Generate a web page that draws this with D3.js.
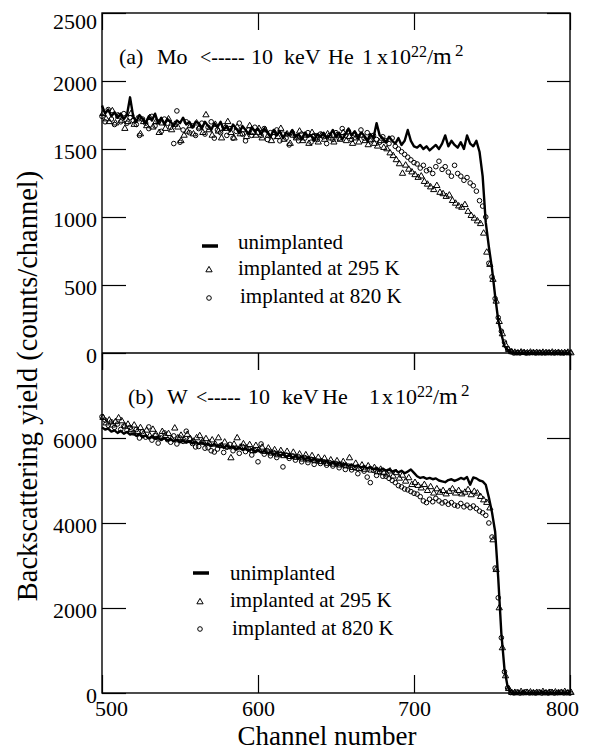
<!DOCTYPE html>
<html lang="en">
<head>
<meta charset="UTF-8">
<title>Backscattering yield, Mo and W</title>
<script src="https://d3js.org/d3.v7.min.js"></script>
<style>
  body { margin: 0; background: #fff; }
  svg text { font-family: "Liberation Serif", "Times New Roman", serif; fill: #000; }
  .axis path.domain { display: none; }
  .axis line { stroke: #000; stroke-width: 1.2; }
  .axis text { font-size: 22px; font-family: "Liberation Serif", serif; }
</style>
</head>
<body>
<svg id="chart" width="595" height="751"></svg>
<script>
// channel numbers, every second channel
const channels = d3.range(500, 801, 2);

// (a) Mo, counts per channel
const moUnimplanted = [
  1820, 1760, 1790, 1740, 1770, 1730, 1760, 1720, 1750, 1880, 1740,
  1700, 1750, 1720, 1690, 1740, 1710, 1760, 1690, 1730, 1680, 1720, 1700, 1670, 1710, 1690, 1730, 1680, 1700, 1660, 1700,
  1690, 1650, 1700, 1670, 1640, 1690, 1660, 1700, 1640, 1670, 1630, 1680, 1650, 1620, 1670, 1640, 1610, 1660, 1630, 1650,
  1610, 1650, 1620, 1590, 1640, 1600, 1630, 1580, 1620, 1600, 1640, 1590, 1610, 1570, 1620, 1590, 1600, 1560, 1610, 1590,
  1620, 1580, 1600, 1640, 1590, 1620, 1570, 1610, 1650, 1600, 1630, 1580, 1620, 1600, 1560, 1610, 1580, 1690, 1600, 1580,
  1550, 1590, 1560, 1540, 1580, 1530, 1560, 1640, 1560, 1520,
  1510, 1530, 1500, 1520, 1490, 1510, 1530, 1500, 1540, 1600, 1520, 1560, 1530, 1510, 1550, 1500, 1600, 1540, 1520, 1560,
  1480, 1300, 960, 780, 620, 420, 240, 140, 50, 25, 5,
  0, 2, 0, 3, 1, 0, 2, 0, 1, 3, 0, 2, 1, 0, 2, 0, 1, 0, 2
];
const moImplanted295 = [
  1760, 1720, 1700, 1780, 1690, 1740, 1710, 1650, 1700, 1760, 1680,
  1720, 1610, 1700, 1670, 1730, 1660, 1700, 1620, 1690, 1650, 1720, 1640, 1680, 1660, 1560, 1600, 1630, 1670, 1610, 1690,
  1660, 1620, 1750, 1640, 1600, 1680, 1630, 1580, 1650, 1700, 1620, 1580, 1660, 1610, 1640, 1590, 1670, 1620, 1600, 1650,
  1580, 1640, 1600, 1560, 1620, 1590, 1650, 1570, 1610, 1540, 1600, 1580, 1630, 1560, 1600, 1540, 1620, 1580, 1550, 1600,
  1570, 1610, 1580, 1550, 1600, 1570, 1620, 1560, 1590, 1540, 1580, 1550, 1600, 1560, 1530, 1570, 1540, 1520, 1560, 1510,
  1500, 1470, 1450, 1420, 1390, 1320, 1380, 1350, 1330, 1310,
  1290, 1300, 1260, 1240, 1220, 1200, 1230, 1180, 1170, 1150, 1160, 1120, 1100, 1080, 1070, 1090, 1040, 1010, 990, 970,
  950, 880, 740, 650, 540, 380, 230, 140, 60, 25, 8,
  4, 0, 6, 2, 0, 5, 1, 3, 0, 4, 2, 0, 5, 1, 3, 0, 2, 4, 0
];
const moImplanted820 = [
  1740, 1700, 1790, 1720, 1680, 1750, 1700, 1760, 1690, 1730, 1710,
  1680, 1600, 1720, 1690, 1650, 1740, 1670, 1700, 1630, 1720, 1690, 1660, 1540, 1780, 1550, 1640, 1700, 1620, 1670, 1600,
  1650, 1690, 1610, 1660, 1700, 1580, 1640, 1620, 1670, 1600, 1650, 1580, 1630, 1690, 1610, 1560, 1640, 1600, 1660, 1620,
  1600, 1650, 1570, 1620, 1590, 1640, 1560, 1610, 1580, 1530, 1620, 1590, 1560, 1610, 1580, 1620, 1550, 1600, 1570, 1610,
  1590, 1540, 1600, 1570, 1620, 1580, 1650, 1600, 1630, 1570, 1610, 1590, 1640, 1580, 1620, 1560, 1600, 1570, 1550, 1590,
  1560, 1540, 1580, 1520, 1500, 1480, 1460, 1440, 1420, 1400,
  1390, 1360, 1380, 1340, 1350, 1320, 1370, 1410, 1350, 1370, 1330, 1300, 1380, 1320, 1300, 1270, 1290, 1250, 1230, 1190,
  1120, 1080, 1000, 660, 560, 400, 260, 160, 80, 30, 10,
  0, 3, 1, 5, 0, 2, 4, 0, 3, 1, 0, 4, 2, 0, 3, 1, 0, 2, 1
];

// (b) W, counts per channel
const wUnimplanted = [
  6250, 6200, 6220, 6150, 6180, 6120, 6170, 6100, 6140, 6080, 6110,
  6050, 6090, 6020, 6060, 5990, 6040, 5980, 6010, 5950, 6000, 5940, 5980, 5920, 5960, 5900, 5940, 5890, 5920, 5870, 5910,
  5860, 5900, 5840, 5870, 5810, 5860, 5800, 5830, 5770, 5820, 5760, 5800, 5740, 5780, 5720, 5760, 5700, 5740, 5680, 5720,
  5660, 5700, 5640, 5670, 5610, 5650, 5590, 5620, 5560, 5600, 5540, 5580, 5520, 5560, 5500, 5540, 5480, 5510, 5450, 5490,
  5440, 5470, 5400, 5430, 5380, 5420, 5360, 5390, 5340, 5380, 5320, 5360, 5300, 5340, 5280, 5320, 5260, 5300, 5240, 5280,
  5230, 5260, 5210, 5240, 5190, 5230, 5170, 5210, 5260, 5180,
  5100, 5060, 5080, 5040, 5060, 5030, 5050, 5000, 4980, 4960, 5010, 5030, 4990, 5020, 5060, 5030, 5080, 4900, 5070, 5050,
  5000, 4980, 4900, 4600, 4250, 3800, 2700, 1400, 560, 150, 15,
  0, 10, 0, 20, 0, 0, 10, 0, 0, 20, 0, 0, 10, 0, 0, 0, 10, 0, 0
];
const wImplanted295 = [
  6480, 6350, 6420, 6300, 6380, 6470, 6400, 6280, 6320, 6200, 6300,
  6150, 6240, 6100, 6180, 6050, 6200, 6080, 6000, 6150, 6050, 6100, 5980, 6230, 6000, 6060, 5950, 6080, 5980, 5920, 6000,
  6050, 5920, 5980, 5880, 5950, 5850, 6000, 5820, 5900, 5800, 5530, 5850, 6000, 5780, 5860, 5760, 5840, 5700, 5820, 5720,
  5780, 5680, 5760, 5640, 5720, 5600, 5700, 5580, 5680, 5560, 5660, 5540, 5620, 5500, 5600, 5480, 5580, 5460, 5540, 5440,
  5520, 5400, 5480, 5380, 5460, 5360, 5440, 5340, 5530, 5300, 5400, 5280, 5360, 5260, 5340, 5240, 5300, 5200, 5260, 5180,
  5150, 5220, 5100, 5180, 5050, 5120, 4980, 5060, 4900, 4950,
  4880, 4820, 4900, 4760, 4850, 4700, 4800, 4720, 4760, 4680, 4740, 4800, 4700, 4760, 4680, 4720, 4780, 4660, 4740, 4700,
  4620, 4540, 4480, 4350, 3600, 2900, 2000, 1060, 400, 100, 10,
  10, 0, 30, 0, 10, 20, 0, 10, 0, 30, 0, 10, 0, 20, 0, 10, 30, 0, 10
];
const wImplanted820 = [
  6500, 6420, 6300, 6380, 6250, 6330, 6200, 6280, 6180, 6250, 6120,
  6200, 6000, 6150, 6020, 6260, 5950, 6060, 5880, 6000, 6120, 5960, 5900, 6050, 5860, 6000, 5920, 6160, 5980, 5870, 5790,
  5800, 5900, 5760, 5770, 5700, 5670, 5740, 5820, 5660, 5780, 5850, 5700, 5760, 5640, 5800, 5680, 5740, 5600, 5700, 5440,
  5860, 5620, 5700, 5580, 5660, 5540, 5640, 5320, 5600, 5520, 5580, 5480, 5560, 5440, 5540, 5420, 5500, 5380, 5460, 5400,
  5440, 5360, 5420, 5340, 5400, 5300, 5380, 5260, 5340, 5250, 5300, 5160, 5280, 5220, 5080, 4950, 5240, 5120, 5200, 5100,
  5100, 5050, 5000, 4950, 4880, 4850, 4800, 4780, 4740, 4700,
  4680, 4620, 4520, 4480, 4560, 4500, 4580, 4520, 4470, 4500, 4440, 4480, 4420, 4400, 4460, 4380, 4420, 4360, 4400, 4340,
  4280, 4240, 4180, 4000, 3670, 2940, 2240, 1300, 500, 120, 10,
  0, 20, 0, 10, 30, 0, 10, 0, 20, 0, 10, 0, 30, 0, 10, 20, 0, 10, 0
];

const xTicks = [500, 600, 700, 800];
const moYTicks = [0, 500, 1000, 1500, 2000, 2500];
const wYTicks = [0, 2000, 4000, 6000];
const legendLabels = ["unimplanted", "implanted at 295 K", "implanted at 820 K"];

const svg = d3.select("#chart");
const left = 102, right = 570;

const x = d3.scaleLinear().domain([500, 800]).range([left, right]);

// title pieces: [text, x, font size, raise]
const panels = [
    {
        top: 13, bottom: 353, yMax: 2500, ticks: moYTicks,
        line: moUnimplanted, tri: moImplanted295, circ: moImplanted820,
        title: [["(a)", 119], ["Mo", 157], ["<-----", 200, 20], ["10", 251], ["keV", 284], ["He", 328],
                ["1", 362], ["x", 377], ["10", 389], ["22", 411, 16, 7], ["/", 427], ["m", 433, 24], ["2", 455, 17, 8]],
        titleY: 64,
        legend: { lineX: 202, textX: 238, rows: [246, 270, 298], base: [249, 275, 303] }
    },
    {
        top: 353, bottom: 693, yMax: 8000, ticks: wYTicks,
        line: wUnimplanted, tri: wImplanted295, circ: wImplanted820,
        title: [["(b)", 128], ["W", 167], ["<-----", 196, 20], ["10", 248], ["keV", 282], ["He", 322],
                ["1", 369], ["x", 382], ["10", 395], ["22", 417, 16, 7], ["/", 433], ["m", 439, 24], ["2", 461, 17, 8]],
        titleY: 404,
        legend: { lineX: 193, textX: 230, rows: [573, 602, 629], base: [580, 607, 635] }
    }
];

const triangle = d3.symbol().type(d3.symbolTriangle).size(17);

panels.forEach((p, pi) => {
    const y = d3.scaleLinear().domain([0, p.yMax]).range([p.bottom, p.top]);
    const g = svg.append("g");

    // y axes, ticks pointing inward
    const yl = g.append("g").attr("class", "axis")
        .attr("transform", `translate(${left},0)`)
        .call(d3.axisLeft(y).tickValues(p.ticks).tickSize(-24).tickPadding(5).tickFormat(d3.format("d")));
    yl.selectAll("text").attr("dy", "0.45em");
    if (pi === 0) yl.selectAll("text").filter(d => d === 2500).attr("dy", "0.7em");

    g.append("g").attr("class", "axis")
        .attr("transform", `translate(${right},0)`)
        .call(d3.axisRight(y).tickValues(p.ticks).tickSize(-23).tickFormat(""));

    // x ticks
    g.append("g").attr("class", "axis")
        .attr("transform", `translate(0,${p.top})`)
        .call(d3.axisTop(x).tickValues(xTicks).tickSize(-17).tickFormat(""));
    const xb = g.append("g").attr("class", "axis")
        .attr("transform", `translate(0,${p.bottom})`)
        .call(d3.axisBottom(x).tickValues(xTicks).tickSize(pi === 0 ? 17 : -18).tickPadding(7)
            .tickFormat(pi === 0 ? "" : d3.format("d")));
    if (pi === 1) {
        xb.selectAll("text").attr("dx", d => d === 500 ? 9 : d === 800 ? -8 : 0);
    }

    // data
    const pts = channels.map((c, i) => ({ c, line: p.line[i], tri: p.tri[i], circ: p.circ[i] }));

    g.append("path")
        .datum(pts)
        .attr("fill", "none")
        .attr("stroke", "#000")
        .attr("stroke-width", 2.4)
        .attr("stroke-linejoin", "round")
        .attr("d", d3.line().x(d => x(d.c)).y(d => y(d.line)));

    g.append("g").selectAll("circle")
        .data(pts)
        .join("circle")
        .attr("cx", d => x(d.c))
        .attr("cy", d => y(d.circ))
        .attr("r", 2.3)
        .attr("fill", "none")
        .attr("stroke", "#000")
        .attr("stroke-width", 1);

    g.append("g").selectAll("path")
        .data(pts)
        .join("path")
        .attr("transform", d => `translate(${x(d.c) + 1},${y(d.tri)})`)
        .attr("d", triangle)
        .attr("fill", "none")
        .attr("stroke", "#000")
        .attr("stroke-width", 1);

    // title
    p.title.forEach(([s, tx, fs, raise]) => {
        g.append("text")
            .attr("x", tx)
            .attr("y", p.titleY - (raise || 0))
            .style("font-size", (fs || 22) + "px")
            .text(s);
    });

    // legend
    const L = p.legend;
    g.append("line")
        .attr("x1", L.lineX).attr("x2", L.lineX + 16)
        .attr("y1", L.rows[0]).attr("y2", L.rows[0])
        .attr("stroke", "#000").attr("stroke-width", 3.5);
    g.append("path")
        .attr("transform", `translate(${L.lineX + 7},${L.rows[1]})`)
        .attr("d", triangle)
        .attr("fill", "none").attr("stroke", "#000").attr("stroke-width", 1);
    g.append("circle")
        .attr("cx", L.lineX + 7).attr("cy", L.rows[2]).attr("r", 2.3)
        .attr("fill", "none").attr("stroke", "#000").attr("stroke-width", 1);
    legendLabels.forEach((lab, i) => {
        g.append("text")
            .attr("x", L.textX + (i === 2 ? 2 : 0))
            .attr("y", L.base[i])
            .style("font-size", "21px")
            .text(lab);
    });
});

// frame
svg.append("rect")
    .attr("x", left).attr("y", 13)
    .attr("width", right - left).attr("height", 693 - 13)
    .attr("fill", "none").attr("stroke", "#000").attr("stroke-width", 1.4);
svg.append("line")
    .attr("x1", left).attr("x2", right).attr("y1", 353).attr("y2", 353)
    .attr("stroke", "#000").attr("stroke-width", 1.4);

// axis titles
svg.append("text")
    .attr("transform", "translate(37,386) rotate(-90)")
    .attr("text-anchor", "middle")
    .style("font-size", "28.5px")
    .text("Backscattering yield (counts/channel)");
svg.append("text")
    .attr("x", 327).attr("y", 745)
    .attr("text-anchor", "middle")
    .style("font-size", "27px")
    .text("Channel number");
</script>
</body>
</html>
